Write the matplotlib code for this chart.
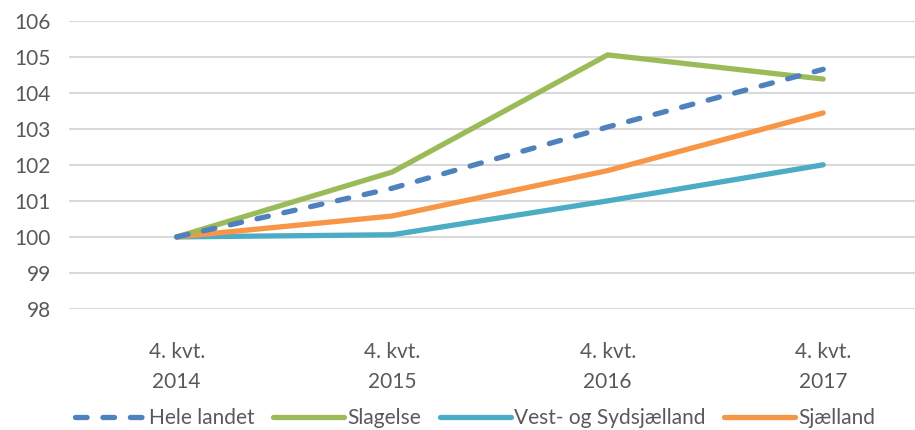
import matplotlib.pyplot as plt

categories = ["4. kvt.\n2014", "4. kvt.\n2015", "4. kvt.\n2016", "4. kvt.\n2017"]
hele_landet = [100.0, 101.35, 103.05, 104.65]
slagelse = [100.0, 101.8, 105.05, 104.38]
vest_syd = [100.0, 100.06, 101.0, 102.0]
sjaelland = [100.0, 100.58, 101.84, 103.44]

plt.rcParams['font.family'] = ['Lato', 'DejaVu Sans']

fig = plt.figure(figsize=(9.15, 4.3), dpi=100)
ax = fig.add_axes([0.0754, 0.2814, 0.942, 0.6706])

x = range(len(categories))
lw = 3.8
ax.plot(x, hele_landet, color='#4F81BD', lw=lw, dashes=(2.2, 3.0),
        dash_capstyle='round', label='Hele landet', zorder=6)
ax.plot(x, slagelse, color='#9BBB59', lw=lw, solid_capstyle='round',
        solid_joinstyle='round', label='Slagelse', zorder=5)
ax.plot(x, vest_syd, color='#4BACC6', lw=lw, solid_capstyle='round',
        solid_joinstyle='round', label='Vest- og Sydsjælland', zorder=3)
ax.plot(x, sjaelland, color='#F79646', lw=lw, solid_capstyle='round',
        solid_joinstyle='round', label='Sjælland', zorder=4)

ax.set_xlim(-0.5, 3.5)
ax.set_ylim(98, 106)
ax.set_yticks(range(98, 107))
ax.set_xticks(list(x))
ax.set_xticklabels(categories, linespacing=1.6)
ax.grid(axis='y', color='#D9D9D9', lw=1.5)
ax.set_axisbelow(True)
for s in ax.spines.values():
    s.set_visible(False)
ax.tick_params(length=0, labelsize=15, colors='#595959')
ax.tick_params(axis='x', pad=24)
ax.tick_params(axis='y', pad=13)

leg = ax.legend(loc='upper center', bbox_to_anchor=(0.471, -0.30), ncol=4,
                frameon=False, fontsize=15, handlelength=3.4, handletextpad=0.15,
                columnspacing=0.9, labelcolor='#595959', borderpad=0.1)

fig.savefig('out.png', dpi=100)
